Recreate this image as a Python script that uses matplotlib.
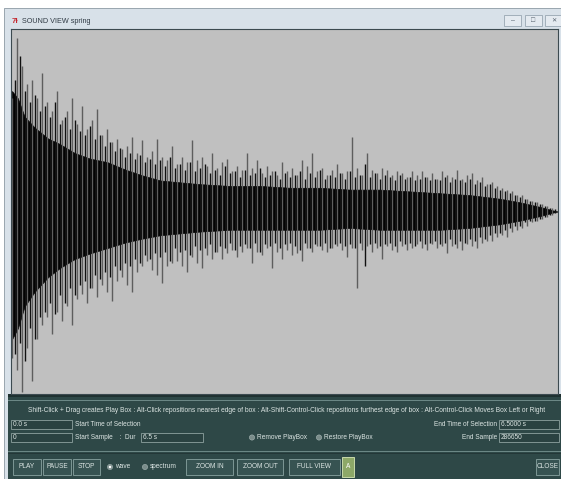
import numpy as np
import matplotlib.pyplot as plt
from matplotlib.patches import Rectangle, Circle

plt.rcParams['font.family'] = ['Liberation Sans', 'DejaVu Sans']

# sound file shown in the view
DURATION = 6.5  # seconds
END_SAMPLE = 286650

# dense core of the waveform (time s, upper, lower), normalised amplitude
core_t = [0.0, 0.07, 0.15, 0.27, 0.43, 0.57, 0.75, 0.93, 1.14, 1.35, 1.54,
          1.77, 2.00, 2.24, 2.60, 2.96, 3.32, 3.67, 4.03, 4.39, 4.75, 5.11,
          5.46, 5.82, 6.06, 6.30, 6.50]
core_hi = [0.66, 0.62, 0.52, 0.46, 0.40, 0.37, 0.32, 0.29, 0.27, 0.23, 0.20,
           0.17, 0.16, 0.15, 0.14, 0.14, 0.13, 0.13, 0.12, 0.12, 0.11, 0.10,
           0.09, 0.07, 0.05, 0.025, 0.0]
core_lo = [-0.70, -0.64, -0.52, -0.44, -0.36, -0.31, -0.26, -0.23, -0.20,
           -0.17, -0.15, -0.13, -0.12, -0.11, -0.10, -0.10, -0.10, -0.10,
           -0.09, -0.10, -0.10, -0.10, -0.09, -0.07, -0.05, -0.025, 0.0]

# tallest (grey) spike of each display column, one column every 5 px
peak_top = [0.62, 0.95, 0.80, 0.70, 0.72, 0.62, 0.76, 0.60, 0.55, 0.66,
            0.50, 0.55, 0.62, 0.48, 0.58, 0.45, 0.50, 0.56, 0.42, 0.45,
            0.38, 0.40, 0.34, 0.36, 0.41, 0.32, 0.39, 0.30, 0.33, 0.40,
            0.30, 0.28, 0.36, 0.26, 0.30, 0.27, 0.39, 0.28, 0.30, 0.25,
            0.32, 0.24, 0.27, 0.29, 0.22, 0.25, 0.23, 0.32, 0.24, 0.28,
            0.21, 0.25, 0.22, 0.20, 0.27, 0.22, 0.24, 0.20, 0.28, 0.25,
            0.32, 0.22, 0.24, 0.20, 0.23, 0.26, 0.21, 0.22, 0.41, 0.24,
            0.20, 0.32, 0.23, 0.21, 0.24, 0.23, 0.20, 0.22, 0.21, 0.19,
            0.22, 0.20, 0.22, 0.19, 0.21, 0.18, 0.22, 0.20, 0.19, 0.23,
            0.18, 0.20, 0.21, 0.17, 0.19, 0.15, 0.16, 0.14, 0.13, 0.12,
            0.11, 0.09, 0.09, 0.07, 0.06, 0.05, 0.04, 0.03, 0.02, 0.0]
peak_bot = [-0.80, -0.87, -0.99, -0.75, -0.93, -0.70, -0.62, -0.58, -0.67, -0.55,
            -0.60, -0.52, -0.62, -0.48, -0.45, -0.50, -0.42, -0.47, -0.40, -0.44,
            -0.49, -0.38, -0.36, -0.40, -0.44, -0.33, -0.30, -0.27, -0.32, -0.35,
            -0.39, -0.30, -0.28, -0.27, -0.30, -0.33, -0.25, -0.28, -0.31, -0.24,
            -0.26, -0.22, -0.26, -0.23, -0.21, -0.25, -0.22, -0.20, -0.28, -0.22,
            -0.24, -0.20, -0.31, -0.22, -0.26, -0.21, -0.24, -0.23, -0.27, -0.20,
            -0.22, -0.19, -0.21, -0.22, -0.20, -0.19, -0.21, -0.25, -0.20, -0.42,
            -0.21, -0.19, -0.22, -0.20, -0.26, -0.19, -0.21, -0.22, -0.19, -0.21,
            -0.20, -0.18, -0.20, -0.21, -0.18, -0.20, -0.19, -0.23, -0.19, -0.20,
            -0.21, -0.18, -0.19, -0.20, -0.17, -0.16, -0.16, -0.14, -0.13, -0.14,
            -0.11, -0.10, -0.09, -0.08, -0.06, -0.05, -0.04, -0.03, -0.02, 0.0]

# black spikes between the columns above (offset by half a column)
mid_top = [0.72, 0.85, 0.66, 0.60, 0.64, 0.55, 0.58, 0.52, 0.60, 0.48,
           0.52, 0.45, 0.50, 0.44, 0.42, 0.47, 0.40, 0.42, 0.36, 0.38,
           0.33, 0.35, 0.30, 0.32, 0.29, 0.31, 0.27, 0.29,
           0.26, 0.28, 0.25, 0.30, 0.24, 0.26, 0.23, 0.27, 0.22, 0.24,
           0.26, 0.21, 0.23, 0.20, 0.25, 0.21, 0.22, 0.19, 0.23, 0.20,
           0.21, 0.24, 0.19, 0.20, 0.22, 0.18, 0.21, 0.19,
           0.20, 0.22, 0.18, 0.21, 0.19, 0.23, 0.18, 0.20, 0.19, 0.21,
           0.18, 0.22, 0.19, 0.20, 0.26, 0.19, 0.21, 0.18, 0.20, 0.19,
           0.17, 0.20, 0.18, 0.19, 0.17, 0.18, 0.19, 0.17,
           0.18, 0.17, 0.19, 0.16, 0.18, 0.17, 0.16, 0.18, 0.15, 0.16,
           0.14, 0.15, 0.13, 0.12, 0.11, 0.10, 0.09, 0.08, 0.07, 0.06,
           0.05, 0.04, 0.03, 0.02, 0.015, 0.005]
mid_bot = [-0.78, -0.72, -0.82, -0.64, -0.70, -0.58, -0.55, -0.50, -0.56, -0.46,
           -0.50, -0.42, -0.46, -0.40, -0.38, -0.42, -0.35, -0.37, -0.33, -0.36,
           -0.30, -0.32, -0.28, -0.30, -0.26, -0.28, -0.24, -0.26,
           -0.23, -0.25, -0.22, -0.27, -0.20, -0.22, -0.21, -0.24, -0.19, -0.21,
           -0.20, -0.18, -0.22, -0.19, -0.20, -0.17, -0.21, -0.19, -0.18, -0.20,
           -0.17, -0.22, -0.18, -0.19, -0.17, -0.20, -0.18, -0.17,
           -0.19, -0.21, -0.17, -0.20, -0.18, -0.19, -0.17, -0.20, -0.18, -0.17,
           -0.19, -0.18, -0.20, -0.17, -0.30, -0.18, -0.17, -0.19, -0.18, -0.17,
           -0.19, -0.16, -0.18, -0.17, -0.19, -0.16, -0.18, -0.17,
           -0.16, -0.18, -0.17, -0.15, -0.18, -0.16, -0.17, -0.15, -0.16, -0.14,
           -0.15, -0.13, -0.12, -0.12, -0.10, -0.09, -0.08, -0.08, -0.06, -0.05,
           -0.05, -0.04, -0.03, -0.02, -0.01, -0.005]

PANEL = '#2e4847'
FG = '#dde6e4'
W, H = 561, 479


def entry(ax, x0, x1, y0, y1, text):
    ax.add_patch(Rectangle((x0, y0), x1 - x0, y1 - y0, fc='#2a4241',
                           ec='#8ea2a0', lw=0.6))
    ax.text(x0 + 2, (y0 + y1) / 2, text, color=FG, fontsize=4.7, va='center')


def button(ax, x0, x1, y0, y1, text, face='#375352', edge='#7d9795', color=FG):
    ax.add_patch(Rectangle((x0, y0), x1 - x0, y1 - y0, fc=face, ec=edge, lw=0.7))
    ax.text((x0 + x1) / 2, (y0 + y1) / 2, text, color=color, fontsize=4.7,
            ha='center', va='center')


def radio(ax, x, y, label, selected=False):
    ax.add_patch(Circle((x, y), 2.6, fc='#7a8c8a', ec='#a8b8b6', lw=0.4))
    if selected:
        ax.add_patch(Circle((x, y), 1.3, fc='white', ec='none'))
    ax.text(x + 5, y, label, color=FG, fontsize=4.7, va='center')


fig = plt.figure(figsize=(W / 100, H / 100), dpi=100)
bg = fig.add_axes([0, 0, 1, 1])
bg.set_xlim(0, W)
bg.set_ylim(H, 0)
bg.axis('off')

# window chrome
bg.add_patch(Rectangle((0, 0), W, H, fc='white', ec='none'))
bg.add_patch(Rectangle((4, 8), W - 4, H - 8, fc='#d8e1e9', ec='#8c99a4', lw=0.6))
bg.text(12, 21, '7\u026b', color='#c4262d', fontsize=5.5, fontweight='bold', va='center')
bg.text(22, 21, 'SOUND VIEW spring', color='#303a44', fontsize=5.2, va='center')
for bx in [504, 525, 545]:
    bg.add_patch(Rectangle((bx, 15), 17, 11, fc='#e4eaf0', ec='#98a6b2', lw=0.6))
bg.text(512.5, 20.5, '\u2013', color='#56626e', fontsize=5, ha='center', va='center')
bg.text(533.5, 20.5, '\u25a1', color='#56626e', fontsize=5, ha='center', va='center')
bg.text(553.5, 20.5, '\u2715', color='#56626e', fontsize=4.5, ha='center', va='center')

# control panel
bg.add_patch(Rectangle((8, 394), W - 8, H - 394, fc=PANEL, ec='none'))
bg.add_patch(Rectangle((8, 394), W - 8, 3, fc='#1f3131', ec='none'))
bg.plot([8, W], [399.5, 399.5], color='#6d8a88', lw=0.7)
bg.plot([8, W], [451, 451], color='#6d8a88', lw=0.7)
bg.plot([8, W], [453, 453], color='#1f3131', lw=0.5)

bg.text(28, 411, 'Shift-Click + Drag creates Play Box : Alt-Click repositions nearest edge '
        'of box : Alt-Shift-Control-Click repositions furthest edge of box : '
        'Alt-Control-Click Moves Box Left or Right', color=FG, fontsize=4.75, va='center')

entry(bg, 11, 72, 420, 429, '0.0 s')
bg.text(75, 424.5, 'Start Time of Selection', color=FG, fontsize=4.7, va='center')
entry(bg, 11, 72, 433, 442, '0')
bg.text(75, 437.5, 'Start Sample    :  Dur', color=FG, fontsize=4.7, va='center')
entry(bg, 141, 203, 433, 442, '%.1f s' % DURATION)
radio(bg, 252, 437.5, 'Remove PlayBox')
radio(bg, 319, 437.5, 'Restore PlayBox')
bg.text(497, 424.5, 'End Time of Selection', color=FG, fontsize=4.7, va='center', ha='right')
entry(bg, 499, 559, 420, 429, '%.4f s' % DURATION)
bg.text(497, 437.5, 'End Sample', color=FG, fontsize=4.7, va='center', ha='right')
entry(bg, 499, 559, 433, 442, str(END_SAMPLE))

button(bg, 13, 41, 459, 475, 'PLAY')
button(bg, 43, 71, 459, 475, 'PAUSE')
button(bg, 73, 100, 459, 475, 'STOP')
radio(bg, 110, 467, 'wave', selected=True)
radio(bg, 145, 467, 'spectrum')
button(bg, 186, 233, 459, 475, 'ZOOM IN')
button(bg, 237, 283, 459, 475, 'ZOOM OUT')
button(bg, 289, 340, 459, 475, 'FULL VIEW')
button(bg, 342, 354, 457, 477, 'A', face='#8da868', edge='#c8d8aa', color='white')
button(bg, 536, 559, 459, 475, 'CLOSE')

# waveform view
px = DURATION / 545
ax = fig.add_axes([11 / W, 1 - 394 / H, 547 / W, 365 / H])
ax.set_facecolor('#c0c0c0')
ax.set_xlim(-px, DURATION + px)
ax.set_ylim(-1, 1)
ax.set_xticks([])
ax.set_yticks([])
for s in ax.spines.values():
    s.set_color('#3c4a50')
    s.set_linewidth(0.8)

t_cols = np.linspace(0, DURATION, len(peak_top))
t_mid = np.clip(t_cols + 2.5 * px, 0, DURATION)
ax.vlines(t_cols, peak_bot, peak_top, color='#5e5e5e', lw=1.0)
ax.vlines(t_mid, mid_bot, mid_top, color='#101010', lw=1.0)
ax.fill_between(core_t, core_lo, core_hi, color='black', lw=0.5)

fig.savefig('out.png', dpi=100)
plt.close('all')
